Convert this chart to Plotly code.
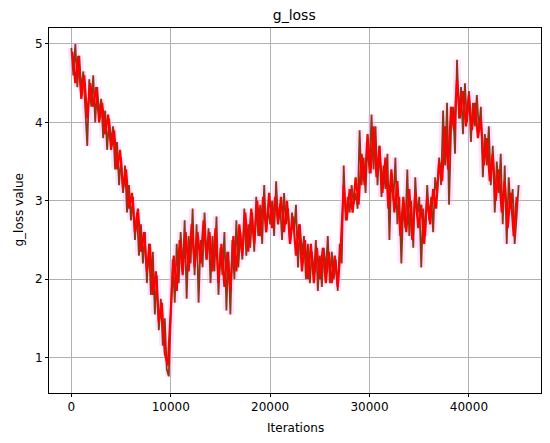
import plotly.graph_objects as go

# Raw g_loss values (brown), one every 200 iterations starting at 0
g_loss = [
    4.95, 4.60, 5.00, 4.45, 4.85, 4.40, 4.65, 4.25, 3.70, 4.55,
    4.20, 4.60, 4.00, 4.45, 4.10, 4.30, 3.80, 4.15, 3.65, 4.05,
    3.75, 3.95, 3.40, 3.75, 3.20, 3.55, 3.10, 3.45, 2.85, 3.20,
    2.75, 3.05, 2.50, 2.85, 2.30, 2.70, 2.20, 2.60, 1.95, 2.45,
    1.80, 2.35, 1.55, 2.05, 1.35, 1.75, 1.15, 1.50, 0.85, 0.76,
    1.40, 2.25, 1.70, 2.45, 1.95, 2.60, 2.10, 2.75, 1.75, 2.55,
    2.20, 2.90, 2.05, 2.70, 1.70, 2.50, 2.15, 2.85, 2.25, 2.65,
    1.95, 2.55, 2.10, 2.80, 1.80, 2.40, 2.05, 2.60, 1.60, 2.35,
    1.55, 2.50, 2.00, 2.75, 2.15, 2.60, 2.25, 2.90, 2.30, 2.70,
    2.40, 2.85, 2.35, 3.05, 2.55, 2.95, 2.45, 3.20, 2.60, 2.90,
    2.70, 3.00, 2.55, 3.25, 2.75, 2.95, 2.50, 3.10, 2.70, 2.90,
    2.45, 2.85, 2.60, 2.95, 2.15, 2.70, 2.30, 2.55, 2.00, 2.45,
    1.95, 2.35, 2.05, 2.50, 1.85, 2.30, 1.90, 2.40, 2.10, 2.55,
    1.95, 2.35, 2.00, 2.25, 1.85, 2.45, 2.20, 3.45, 2.75, 3.05,
    2.85, 3.20, 2.95, 3.10, 2.90, 3.90, 3.20, 3.55, 3.10, 3.75,
    3.35, 4.10, 3.40, 3.95, 3.20, 3.70, 3.05, 3.45, 3.15, 3.60,
    2.50, 3.35, 3.00, 3.55, 2.70, 3.05, 2.20, 2.95, 2.65, 3.40,
    2.55, 3.00, 2.40, 3.30, 2.80, 3.05, 2.15, 2.90, 2.55, 3.20,
    2.75, 3.05, 2.60, 3.30, 3.10, 3.55, 3.20, 4.15, 3.45, 4.25,
    2.95, 3.90, 4.20, 3.60, 4.80, 4.05, 4.45, 3.85, 4.50, 4.00,
    4.40, 3.75, 4.25, 3.95, 4.35, 3.90, 4.20, 3.30, 3.85, 3.45,
    3.95, 3.20, 3.70, 2.85, 3.50, 3.10, 3.60, 2.70, 3.45, 2.45,
    3.30, 2.90, 3.15, 2.45, 2.80, 3.20,
]
iters = list(range(0, 200 * len(g_loss), 200))

# Second (red) trace, one every 300 iterations starting at 100
g_loss_red = [
    4.90, 4.50, 4.85, 4.30, 4.60, 4.05, 4.50, 4.20, 4.45, 4.00,
    4.25, 3.85, 4.10, 3.65, 3.90, 3.40, 3.65, 3.15, 3.40, 2.90,
    3.10, 2.60, 2.90, 2.35, 2.60, 2.10, 2.45, 1.80, 2.10, 1.45,
    1.70, 1.05, 0.90, 1.70, 2.30, 1.85, 2.50, 2.05, 2.60, 2.10,
    2.70, 2.15, 2.60, 2.20, 2.75, 2.25, 2.60, 2.10, 2.65, 1.95,
    2.45, 1.90, 2.35, 1.85, 2.55, 2.10, 2.70, 2.30, 2.85, 2.35,
    2.90, 2.45, 3.00, 2.55, 3.05, 2.60, 3.10, 2.65, 3.05, 2.70,
    3.05, 2.60, 3.00, 2.45, 2.80, 2.30, 2.70, 2.10, 2.50, 2.00,
    2.45, 1.95, 2.40, 2.00, 2.40, 1.95, 2.35, 1.95, 2.30, 1.90,
    2.40, 3.20, 2.75, 3.15, 2.85, 3.30, 2.95, 3.60, 3.20, 3.85,
    3.35, 3.95, 3.30, 3.70, 3.10, 3.55, 2.90, 3.40, 2.85, 3.25,
    2.55, 3.05, 2.60, 3.15, 2.50, 3.10, 2.65, 2.95, 2.45, 3.05,
    2.70, 3.15, 2.90, 3.50, 3.25, 3.95, 3.40, 4.20, 3.90, 4.55,
    4.05, 4.40, 3.95, 4.35, 3.90, 4.25, 3.80, 4.05, 3.45, 3.80,
    3.25, 3.60, 3.00, 3.40, 2.85, 3.25, 2.65, 3.10, 2.55, 3.05,
]
iters_red = list(range(100, 100 + 300 * len(g_loss_red), 300))

x_ticks = [0, 10000, 20000, 30000, 40000]
y_ticks = [1, 2, 3, 4, 5]

FONT = "DejaVu Sans"

fig = go.Figure()
# faint pink halo
fig.add_trace(go.Scatter(x=iters, y=g_loss, mode="lines",
                         line=dict(color="rgba(255,170,255,0.35)", width=7),
                         hoverinfo="skip", showlegend=False))
fig.add_trace(go.Scatter(x=iters, y=g_loss, mode="lines",
                         line=dict(color="#8a3a12", width=1.8),
                         showlegend=False))
fig.add_trace(go.Scatter(x=iters_red, y=g_loss_red, mode="lines",
                         line=dict(color="#ff0000", width=2.2),
                         showlegend=False))

axis_common = dict(
    showline=True, linecolor="black", linewidth=1, mirror=True,
    showgrid=True, gridcolor="#b0b0b0", gridwidth=1,
    ticks="outside", ticklen=3, tickwidth=1, tickcolor="black",
    zeroline=False, automargin=False,
    tickfont=dict(family=FONT, size=12, color="black"),
)

fig.update_layout(
    width=550, height=443,
    margin=dict(l=49, r=9, t=28, b=49.5),
    paper_bgcolor="white", plot_bgcolor="white",
    font=dict(family=FONT, color="black"),
    hovermode=False,
    title=dict(text="g_loss", x=0.535, xanchor="center", y=0.967, yanchor="middle",
               font=dict(family=FONT, size=14, color="black")),
    xaxis=dict(range=[-2250, 47250], tickvals=x_ticks,
               ticktext=[str(v) for v in x_ticks], **axis_common),
    yaxis=dict(range=[0.548, 5.204], tickvals=y_ticks,
               ticktext=[str(v) for v in y_ticks], **axis_common),
    annotations=[
        dict(text="Iterations", xref="paper", yref="paper", x=0.5, y=0,
             xanchor="center", yanchor="middle", yshift=-35, showarrow=False,
             font=dict(family=FONT, size=12, color="black")),
        dict(text="g_loss value", xref="paper", yref="paper", x=0, y=0.5,
             xanchor="center", yanchor="middle", xshift=-31, textangle=-90,
             showarrow=False, font=dict(family=FONT, size=12, color="black")),
    ],
)

# remove the browser's default 8px body margin so the figure sits at (0, 0)
fig.write_html("out.html", config={"displayModeBar": False},
               post_script="document.body.style.margin='0';")
